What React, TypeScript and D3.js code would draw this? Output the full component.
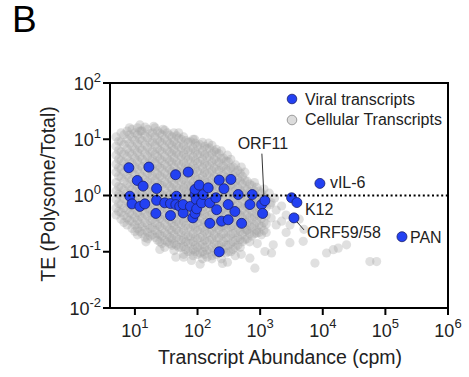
import React from 'react'
import * as d3 from 'd3'

const W = 469
const H = 377
const FONT = 'Liberation Sans, Arial, Helvetica, sans-serif'

// viral transcripts: [abundance (cpm), TE]
const viral: [number, number][] = [
    [8.0, 3.12], [16.7, 3.2], [10.9, 1.85], [13.5, 1.47], [22.2, 1.33], [44.6, 2.34], [71, 2.61],
    [8.3, 0.97], [9.0, 0.71], [12, 0.64], [14.4, 0.71], [21.6, 0.48], [22.2, 0.82], [30, 0.74],
    [37, 0.72], [37, 0.44], [46, 0.97], [45, 0.69], [52, 0.64], [59, 0.49], [59, 0.69], [77, 0.64],
    [84, 0.40], [91, 1.04], [91, 1.28], [95, 0.85], [106, 1.53], [91, 0.48], [97, 0.58], [116, 0.74],
    [123, 1.04], [148, 1.37], [157, 0.74], [157, 0.32], [196, 0.91], [202, 0.56], [222, 1.88],
    [264, 1.32], [341, 1.93], [309, 0.69], [242, 0.35], [309, 0.37], [395, 0.52], [446, 1.04],
    [506, 0.32], [686, 0.69], [747, 1.04], [1055, 0.69], [1094, 0.48], [222, 0.10], [3180, 0.91],
]

const namedViral = [
    { name: 'ORF11', cpm: 1190, te: 0.81 },
    { name: 'vIL-6', cpm: 9000, te: 1.64 },
    { name: 'K12', cpm: 3860, te: 0.75 },
    { name: 'ORF59/58', cpm: 3470, te: 0.40 },
    { name: 'PAN', cpm: 184000, te: 0.185 },
]

// cellular transcripts: abundance (cpm) followed by the TE values seen around it
const cellular: [number, number[]][] = [
    [5, [11, 7.5, 5.2, 3.6, 2.6, 1.7, 1.2, 0.85, 0.6, 0.45]],
    [5.5, [9.2, 6.3, 4.4, 3.1, 2.2, 1.45, 1.05, 0.72, 0.52]],
    [6, [13, 9, 6, 4.2, 3, 2.1, 1.4, 1, 0.7, 0.5, 0.38]],
    [6.7, [12, 8, 5.5, 3.9, 2.6, 1.8, 1.25, 0.88, 0.6, 0.44, 0.33]],
    [7.5, [14, 10, 6.8, 4.8, 3.3, 2.3, 1.6, 1.1, 0.8, 0.56, 0.4, 0.3]],
    [8.2, [16, 12, 8.4, 5.8, 4, 2.8, 2, 1.4, 0.96, 0.68, 0.49, 0.36]],
    [9, [15, 11, 7.6, 5.4, 3.8, 2.7, 1.9, 1.3, 0.92, 0.66, 0.47, 0.34, 0.26]],
    [10, [13, 9.5, 6.6, 4.6, 3.2, 2.3, 1.6, 1.15, 0.8, 0.58, 0.41, 0.3, 0.23]],
    [11, [16, 12, 8.3, 5.8, 4.1, 2.9, 2, 1.45, 1, 0.72, 0.5, 0.36, 0.26, 0.2]],
    [12, [18, 14, 10, 7, 4.9, 3.4, 2.4, 1.7, 1.2, 0.86, 0.61, 0.43, 0.31, 0.23]],
    [13, [14, 9.5, 6.5, 4.5, 3.2, 2.2, 1.55, 1.1, 0.78, 0.55, 0.4, 0.28, 0.21]],
    [14.5, [16.5, 11.5, 8, 5.6, 3.9, 2.7, 1.9, 1.35, 0.95, 0.66, 0.47, 0.33, 0.24, 0.18]],
    [16, [15, 10.5, 7.2, 5, 3.5, 2.5, 1.75, 1.2, 0.85, 0.6, 0.43, 0.3, 0.22, 0.17]],
    [17.5, [12.5, 8.7, 6, 4.2, 2.95, 2.05, 1.45, 1.02, 0.72, 0.51, 0.36, 0.26, 0.19]],
    [19, [13, 9, 6.2, 4.4, 3.1, 2.2, 1.5, 1.05, 0.75, 0.53, 0.38, 0.27, 0.2]],
    [21, [16, 11.2, 7.8, 5.4, 3.8, 2.65, 1.85, 1.3, 0.92, 0.65, 0.46, 0.33, 0.24, 0.18]],
    [23, [14, 9.8, 6.9, 4.9, 3.4, 2.4, 1.7, 1.2, 0.84, 0.6, 0.42, 0.3, 0.21, 0.16]],
    [25, [12.8, 9, 6.3, 4.4, 3.1, 2.2, 1.55, 1.1, 0.78, 0.55, 0.39, 0.28, 0.2, 0.15]],
    [27, [12, 8.5, 6, 4.2, 3, 2.1, 1.5, 1.05, 0.74, 0.52, 0.37, 0.26, 0.19, 0.14]],
    [30, [14.5, 10.2, 7.2, 5, 3.55, 2.5, 1.75, 1.25, 0.88, 0.62, 0.44, 0.31, 0.22, 0.16, 0.12]],
    [33, [13, 9.2, 6.4, 4.5, 3.2, 2.3, 1.6, 1.1, 0.8, 0.56, 0.4, 0.28, 0.2, 0.15]],
    [36, [11.8, 8.3, 5.9, 4.1, 2.9, 2.05, 1.45, 1.02, 0.72, 0.51, 0.36, 0.25, 0.18, 0.14]],
    [39, [11, 7.8, 5.5, 3.9, 2.7, 1.9, 1.35, 0.95, 0.67, 0.47, 0.33, 0.24, 0.17, 0.13]],
    [42, [13, 9.2, 6.5, 4.6, 3.2, 2.25, 1.6, 1.12, 0.79, 0.56, 0.39, 0.28, 0.2, 0.14, 0.105]],
    [46, [11.5, 8, 5.7, 4, 2.8, 2, 1.4, 1, 0.7, 0.5, 0.35, 0.25, 0.18, 0.13]],
    [50, [10.5, 7.5, 5.3, 3.7, 2.6, 1.85, 1.3, 0.92, 0.65, 0.46, 0.32, 0.23, 0.165, 0.12]],
    [55, [10, 7, 5, 3.5, 2.5, 1.75, 1.25, 0.88, 0.62, 0.44, 0.31, 0.22, 0.16, 0.12]],
    [60, [11, 7.8, 5.5, 3.9, 2.75, 1.95, 1.38, 0.97, 0.68, 0.48, 0.34, 0.24, 0.17, 0.125, 0.09]],
    [65, [9.5, 6.6, 4.7, 3.3, 2.3, 1.6, 1.15, 0.8, 0.57, 0.4, 0.29, 0.2, 0.15, 0.11]],
    [71, [8.8, 6.2, 4.4, 3.1, 2.2, 1.55, 1.1, 0.78, 0.55, 0.39, 0.27, 0.19, 0.14, 0.1]],
    [78, [9, 6.3, 4.4, 3.1, 2.2, 1.55, 1.1, 0.77, 0.55, 0.39, 0.27, 0.19, 0.14, 0.1]],
    [85, [10, 7, 4.9, 3.45, 2.45, 1.72, 1.2, 0.85, 0.6, 0.43, 0.3, 0.21, 0.15, 0.11, 0.085]],
    [92, [8.5, 6, 4.2, 3, 2.1, 1.5, 1.05, 0.74, 0.52, 0.37, 0.26, 0.18, 0.13, 0.1]],
    [100, [7.6, 5.4, 3.8, 2.7, 1.9, 1.35, 0.95, 0.67, 0.47, 0.33, 0.24, 0.17, 0.12, 0.09]],
    [110, [8, 5.6, 4, 2.8, 2, 1.4, 1, 0.7, 0.5, 0.35, 0.25, 0.18, 0.13, 0.095]],
    [120, [8.8, 6.2, 4.4, 3.1, 2.2, 1.55, 1.1, 0.77, 0.54, 0.38, 0.27, 0.19, 0.135, 0.1, 0.075]],
    [130, [7.5, 5.3, 3.7, 2.6, 1.85, 1.3, 0.92, 0.65, 0.46, 0.33, 0.23, 0.16, 0.12, 0.09]],
    [142, [6.8, 4.8, 3.4, 2.4, 1.7, 1.2, 0.85, 0.6, 0.42, 0.3, 0.21, 0.15, 0.105, 0.08]],
    [155, [7, 5, 3.5, 2.5, 1.75, 1.25, 0.88, 0.62, 0.44, 0.31, 0.22, 0.16, 0.11]],
    [170, [7.8, 5.5, 3.9, 2.75, 1.95, 1.37, 0.97, 0.68, 0.48, 0.34, 0.24, 0.17, 0.12, 0.085]],
    [185, [6.2, 4.4, 3.1, 2.2, 1.55, 1.1, 0.78, 0.55, 0.39, 0.28, 0.2, 0.14, 0.1]],
    [200, [5.8, 4.1, 2.9, 2.05, 1.45, 1.02, 0.72, 0.51, 0.36, 0.26, 0.18, 0.13, 0.09]],
    [220, [5.5, 3.9, 2.8, 2, 1.4, 1, 0.7, 0.5, 0.35, 0.25, 0.18, 0.13, 0.095]],
    [240, [6.2, 4.5, 3.2, 2.25, 1.6, 1.12, 0.8, 0.56, 0.4, 0.28, 0.2, 0.14, 0.1, 0.075]],
    [260, [4.6, 3.3, 2.3, 1.65, 1.15, 0.82, 0.58, 0.41, 0.29, 0.21, 0.15, 0.11]],
    [285, [4.1, 2.9, 2.05, 1.45, 1.02, 0.72, 0.51, 0.36, 0.26, 0.18, 0.13, 0.095]],
    [310, [4, 2.8, 2, 1.4, 1, 0.72, 0.5, 0.36, 0.26, 0.18, 0.13, 0.1]],
    [340, [4.4, 3.1, 2.2, 1.55, 1.1, 0.78, 0.55, 0.39, 0.28, 0.2, 0.14, 0.1]],
    [370, [3.2, 2.3, 1.6, 1.15, 0.82, 0.58, 0.41, 0.29, 0.21, 0.15, 0.11]],
    [405, [3.5, 2.5, 1.75, 1.25, 0.88, 0.62, 0.44, 0.31, 0.22, 0.16, 0.12]],
    [440, [2.8, 2, 1.4, 1, 0.7, 0.5, 0.36, 0.26, 0.18, 0.13]],
    [480, [2.5, 1.8, 1.25, 0.9, 0.64, 0.45, 0.32, 0.23, 0.165, 0.12]],
    [520, [2.2, 1.6, 1.1, 0.8, 0.56, 0.4, 0.28, 0.2, 0.15]],
    [570, [2.6, 1.85, 1.3, 0.92, 0.65, 0.46, 0.33, 0.23, 0.165]],
    [620, [1.8, 1.3, 0.92, 0.65, 0.46, 0.33, 0.24, 0.17]],
    [680, [1.6, 1.15, 0.82, 0.58, 0.41, 0.29, 0.21, 0.15]],
    [740, [1.5, 1.05, 0.75, 0.53, 0.38, 0.27, 0.19]],
    [810, [1.7, 1.2, 0.85, 0.6, 0.42, 0.3, 0.21]],
    [880, [1.4, 0.95, 0.68, 0.48, 0.34, 0.24]],
    [960, [1.2, 0.85, 0.6, 0.43, 0.3, 0.22]],
    [1050, [1.1, 0.78, 0.55, 0.39, 0.28, 0.2]],
    [1150, [1.3, 0.92, 0.65, 0.46, 0.33, 0.24]],
    [1250, [0.9, 0.62, 0.44, 0.31, 0.22]],
]

// scattered cellular transcripts outside the main cloud
const cellularSparse: [number, number][] = [
    [12.6, 14], [20, 17], [28, 15], [50, 13], [90, 10], [150, 8.5], [200, 6.6], [300, 5.2],
    [500, 3.2], [15, 0.15], [25, 0.11], [60, 0.08], [250, 0.062], [500, 0.09], [900, 0.14],
    [45, 0.08], [80, 0.07], [110, 0.06], [170, 0.075],
    [300, 0.065], [400, 0.085], [1400, 1.1], [1700, 0.9], [1500, 0.75], [1450, 0.69], [1500, 0.4],
    [1620, 0.133], [1520, 0.095], [1800, 0.55], [1800, 0.3], [2200, 0.65], [2200, 0.35],
    [2600, 0.45], [2600, 0.22], [2990, 0.145], [3000, 0.3], [4200, 0.38], [4870, 0.153],
    [5000, 0.25], [7500, 0.063], [11500, 0.095], [14700, 0.109], [17700, 0.116], [24000, 0.133],
    [56600, 0.067], [72500, 0.067], [824, 0.051], [686, 0.077], [1190, 0.101], [877, 0.216],
    [608, 0.247],
]

const xTicks = [1e1, 1e2, 1e3, 1e4, 1e5, 1e6]
const yTicks = [1e-2, 1e-1, 1e0, 1e1, 1e2]

// label offsets (px) from each named point
const labelLayout: Record<string, { dx: number, dy: number, anchor: string, leader?: number[] }> = {
    'ORF11': { dx: -2, dy: -52, anchor: 'middle', leader: [-3, -47, -1, -5] },
    'vIL-6': { dx: 10, dy: 5, anchor: 'start' },
    'K12': { dx: 8, dy: 12, anchor: 'start' },
    'ORF59/58': { dx: 13, dy: 20, anchor: 'start', leader: [3, 4, 10, 12] },
    'PAN': { dx: 8, dy: 6, anchor: 'start' },
}

const BLUE = '#2341f2'
const BLUE_EDGE = '#1b1f6b'

const App = () => {
    const x = d3.scaleLog().domain([4, 1e6]).range([110, 448])
    const y = d3.scaleLog().domain([1e-2, 1e2]).range([308, 83])
    const [x0, x1] = x.range()
    const [y0, y1] = y.range()

    const cellPoints = cellular.flatMap(([c, tes]) => tes.map(t => [c, t] as [number, number]))
        .concat(cellularSparse)

    const exp = (v: number) => String(Math.round(Math.log10(v)))

    return (
        <svg width={W} height={H} style={{ position: 'absolute', left: 0, top: 0, background: '#fff' }}
            fontFamily={FONT}>
            <text x={12} y={32} fontSize={37}>B</text>

            <g fill="#a4a4a4" fillOpacity={0.34}>
                {cellPoints.map(([c, t], i) => (
                    <circle key={i} cx={x(c)} cy={y(t)} r={4.6} />
                ))}
            </g>

            <g fill={BLUE} stroke={BLUE_EDGE} strokeWidth={0.8}>
                {viral.map(([c, t], i) => (
                    <circle key={i} cx={x(c)} cy={y(t)} r={5} />
                ))}
                {namedViral.map(d => (
                    <circle key={d.name} cx={x(d.cpm)} cy={y(d.te)} r={5} />
                ))}
            </g>

            <line x1={x0} x2={x1} y1={y(1)} y2={y(1)} stroke="#000" strokeWidth={2.2}
                strokeDasharray="2,2.6" />

            {/* frame */}
            <rect x={x0} y={y1} width={x1 - x0} height={y0 - y1} fill="none" stroke="#000" strokeWidth={2} />

            {/* y axis */}
            {yTicks.map(t => (
                <g key={t}>
                    <line x1={x0 - 7} x2={x0} y1={y(t)} y2={y(t)} stroke="#000" strokeWidth={2} />
                    <text x={x0 - 9} y={y(t) + 6.5} textAnchor="end" fontSize={18} fill="#222">
                        10<tspan dy={-8} fontSize={13}>{exp(t)}</tspan>
                    </text>
                </g>
            ))}
            {/* x axis */}
            {xTicks.map(t => (
                <g key={t}>
                    <line x1={x(t)} x2={x(t)} y1={y0} y2={y0 + 7} stroke="#000" strokeWidth={2} />
                    <text x={x(t)} y={y0 + 29} textAnchor="middle" fontSize={18} fill="#222">
                        10<tspan dy={-9} fontSize={13}>{exp(t)}</tspan>
                    </text>
                </g>
            ))}

            <text x={280} y={364} textAnchor="middle" fontSize={19.5} fill="#222">
                Transcript Abundance (cpm)
            </text>
            <text transform="translate(55,194) rotate(-90)" textAnchor="middle" fontSize={19.5} fill="#222">
                TE (Polysome/Total)
            </text>

            {/* labels for named viral transcripts */}
            {namedViral.map(d => {
                const l = labelLayout[d.name]
                const px = x(d.cpm)
                const py = y(d.te)
                return (
                    <g key={d.name}>
                        {l.leader && (
                            <line x1={px + l.leader[0]} y1={py + l.leader[1]} x2={px + l.leader[2]}
                                y2={py + l.leader[3]} stroke="#333" strokeWidth={1} />
                        )}
                        <text x={px + l.dx} y={py + l.dy} textAnchor={l.anchor} fontSize={16} fill="#222">
                            {d.name}
                        </text>
                    </g>
                )
            })}

            {/* legend */}
            <circle cx={292} cy={99} r={4.8} fill={BLUE} stroke={BLUE_EDGE} strokeWidth={0.8} />
            <text x={305} y={104.5} fontSize={16} fill="#222">Viral transcripts</text>
            <circle cx={292} cy={120} r={4.8} fill="#dcdcdc" stroke="#888" strokeWidth={0.8} />
            <text x={305} y={125} fontSize={16} fill="#222">Cellular Transcripts</text>
        </svg>
    )
}

export default App
